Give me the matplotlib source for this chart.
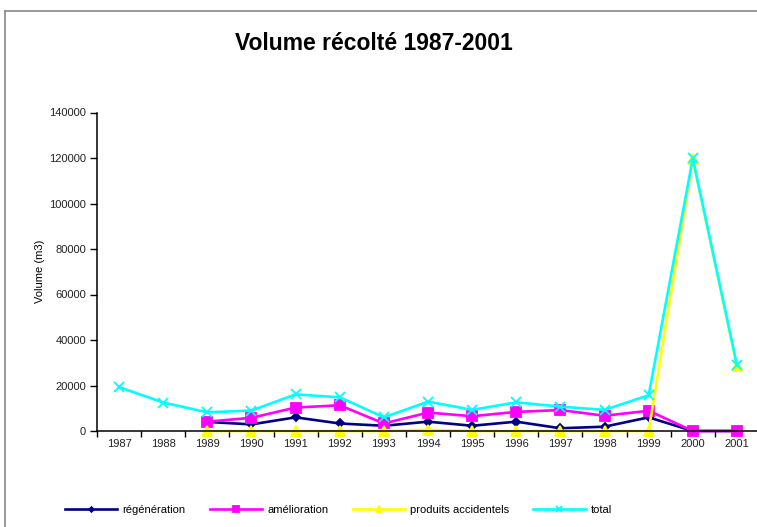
import matplotlib
matplotlib.use("Agg")
import matplotlib.pyplot as plt
from matplotlib.lines import Line2D
import numpy as np

plt.rcParams["font.family"] = ["Liberation Sans", "DejaVu Sans"]

YEARS = ["1987", "1988", "1989", "1990", "1991", "1992", "1993", "1994",
         "1995", "1996", "1997", "1998", "1999", "2000", "2001"]
REGENERATION = [np.nan, np.nan, 4000, 2900, 6000, 3300, 2300, 4100,
                2300, 4100, 1200, 1900, 6000, 0, 0]
AMELIORATION = [np.nan, np.nan, 4100, 5800, 10300, 11300, 3300, 8100,
                6500, 8400, 9200, 6700, 8900, 0, 0]
ACCIDENTELS = [np.nan, np.nan, 0, 0, 0, 0, 0, 500,
               0, 0, 0, 0, 0, 119500, 28500]
TOTAL = [19300, 12500, 8200, 9000, 16100, 14800, 6000, 12900,
         9300, 12600, 10700, 9300, 15700, 119800, 29000]
Y_TICKS = [0, 20000, 40000, 60000, 80000, 100000, 120000, 140000]

W, H = 757, 527
fig = plt.figure(figsize=(W / 100, H / 100), dpi=100)
ax = fig.add_axes([97 / W, 96 / H, 662 / W, 318.5 / H])

x = np.arange(len(YEARS))
series = [
    ("régénération", REGENERATION, "#000080", "D", 4.0),
    ("amélioration", AMELIORATION, "#ff00ff", "s", 6.8),
    ("produits accidentels", ACCIDENTELS, "#ffff00", "^", 6.8),
    ("total", TOTAL, "#00ffff", "x", 7.5),
]
for label, vals, color, marker, ms in series:
    ax.plot(x, vals, color=color, lw=1.9, marker=marker, ms=ms,
            mew=1.3, mec=color, mfc=color, label=label, clip_on=False)

ax.set_xlim(-0.5, len(YEARS) - 0.5)
ax.set_ylim(0, 140000)
ax.set_yticks(Y_TICKS)
ax.set_yticklabels([str(v) for v in Y_TICKS], fontsize=8, color="#222222")
ax.set_xticks(x)
ax.set_xticklabels(YEARS, fontsize=8, color="#222222")
ax.set_xticks(np.arange(-0.5, len(YEARS), 1.0), minor=True)
ax.tick_params(axis="x", which="major", length=0, pad=6)
ax.tick_params(axis="x", which="minor", length=4, width=1, direction="out")
ax.tick_params(axis="y", length=5, width=1, direction="out", pad=3)
for side in ("top", "right"):
    ax.spines[side].set_visible(False)
for side in ("left", "bottom"):
    ax.spines[side].set_linewidth(1.1)
ax.set_ylabel("Volume (m3)", fontsize=8, labelpad=3)

fig.text(374 / W, 1 - 43 / H, "Volume récolté 1987-2001", ha="center",
         va="center", fontsize=16.5, fontweight="bold")

fig.legend(loc="center left", bbox_to_anchor=(65 / W, 1 - 510 / H), ncol=4,
           frameon=False, fontsize=8, handlelength=4.7, handletextpad=0.45,
           columnspacing=2.2, borderpad=0, borderaxespad=0, markerscale=0.6)

# chart area border
fig.add_artist(Line2D([5 / W, 5 / W], [0, 1 - 11 / H], color="#888888", lw=1.2))
fig.add_artist(Line2D([5 / W, 1], [1 - 11 / H, 1 - 11 / H], color="#888888", lw=1.2))

fig.savefig("out.png", dpi=100)
